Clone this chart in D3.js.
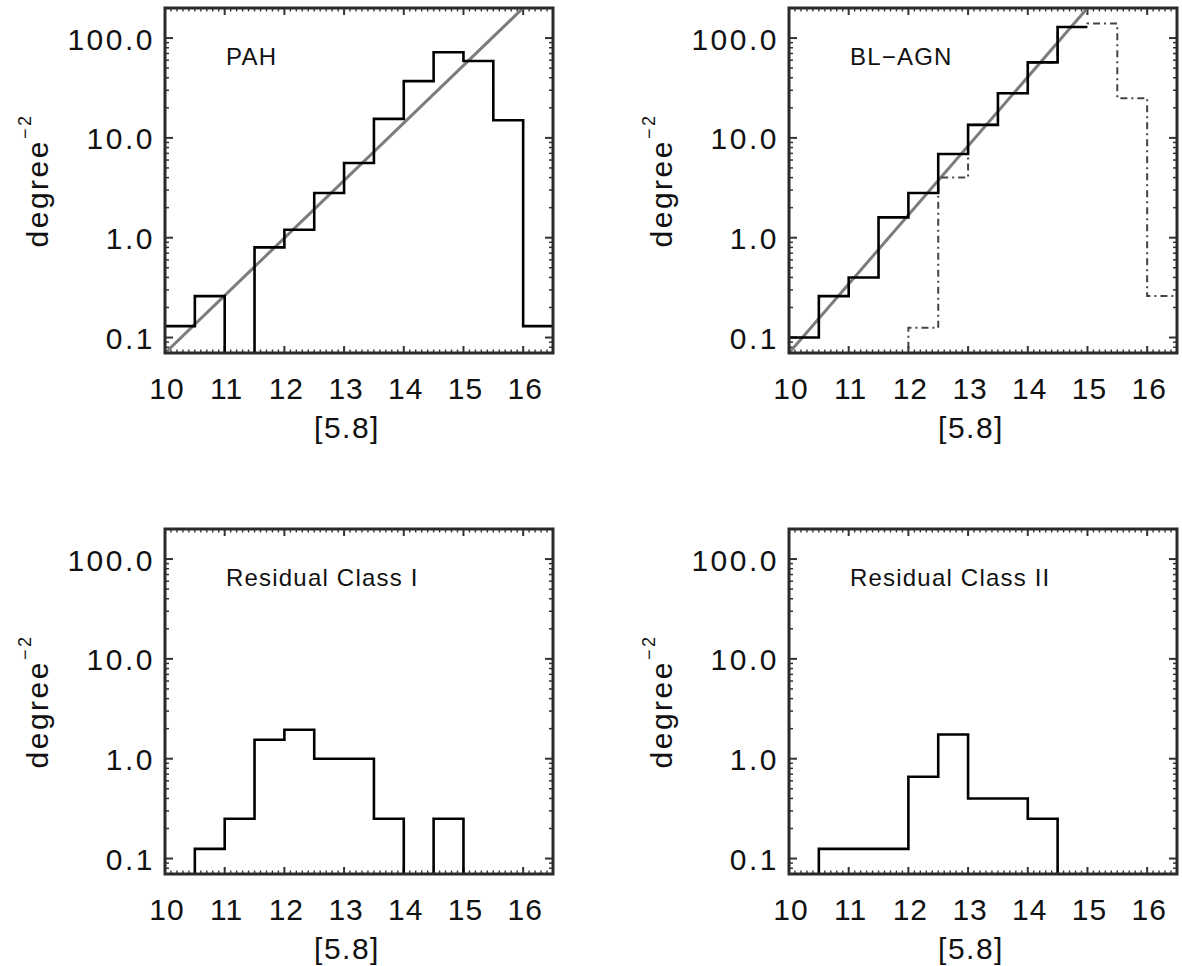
<!DOCTYPE html>
<html>
<head>
<meta charset="utf-8">
<script src="https://cdn.jsdelivr.net/npm/d3@7"></script>
<style>
  html, body { margin: 0; padding: 0; background: #fff; }
  svg { display: block; }
  text { font-family: "Liberation Sans", Arial, Helvetica, sans-serif; fill: #111; }
</style>
</head>
<body>
<svg id="chart" width="1182" height="966"></svg>
<script>
// ---------------- data ----------------
const binStarts = [10, 10.5, 11, 11.5, 12, 12.5, 13, 13.5, 14, 14.5, 15, 15.5, 16];
const binWidth = 0.5;
const xTicks = [10, 11, 12, 13, 14, 15, 16];
const xTickLabels = ["10", "11", "12", "13", "14", "15", "16"];
const yTicks = [0.1, 1, 10, 100];
const yTickLabels = ["0.1", "1.0", "10.0", "100.0"];
const panelTitles = ["PAH", "BL\u2212AGN", "Residual  Class I", "Residual  Class II"];
const xTitle = "[5.8]";
const yTitle = "degree";
const yTitleSup = "\u22122";

// surface densities per bin (0 = empty bin)
const pahValues    = [0.13, 0.26, 0, 0.8, 1.2, 2.8, 5.6, 15.5, 37, 72, 59, 15, 0.13];
const blagnValues  = [0.1, 0.26, 0.4, 1.6, 2.8, 6.9, 13.5, 28, 57, 129];
const blagnAltValues = [0, 0, 0, 0, 0.125, 4.0, 13.5, 28, 57, 129, 140, 25, 0.26];
const class1Values = [0, 0.125, 0.25, 1.55, 1.95, 1.0, 1.0, 0.25, 0, 0.25, 0, 0, 0];
const class2Values = [0, 0.125, 0.125, 0.125, 0.66, 1.75, 0.4, 0.4, 0.25, 0, 0, 0, 0];

// power-law fits (end points in data units)
const pahFitX = [10, 16];
const pahFitY = [0.07, 200];
const blagnFitX = [10, 15];
const blagnFitY = [0.07, 200];

// ---------------- layout ----------------
const W = 388, H = 345;
const panels = [
  { x0: 165, y0: 8,   title: panelTitles[0], hists: [{ v: pahValues, dash: null }], fit: [pahFitX, pahFitY] },
  { x0: 789, y0: 8,   title: panelTitles[1], hists: [{ v: blagnAltValues, dash: "7,4,2,4", color: "#444", width: 2 }, { v: blagnValues, dash: null }], fit: [blagnFitX, blagnFitY] },
  { x0: 165, y0: 529, title: panelTitles[2], hists: [{ v: class1Values, dash: null }], fit: null },
  { x0: 789, y0: 529, title: panelTitles[3], hists: [{ v: class2Values, dash: null }], fit: null }
];

const svg = d3.select("#chart");
const x = d3.scaleLinear().domain([10, 16.5]).range([0, W]);
const y = d3.scaleLog().domain([0.07, 200]).range([H, 0]);
const FLOOR = 0.005;

panels.forEach((p, pi) => {
  const g = svg.append("g").attr("transform", `translate(${p.x0},${p.y0})`);
  const clipId = "clip" + pi;
  g.append("clipPath").attr("id", clipId)
    .append("rect").attr("x", 0).attr("y", 0).attr("width", W).attr("height", H);

  // minor + major ticks (inward, on all four sides)
  const tg = g.append("g").attr("stroke", "#333");
  const xMinor = d3.range(10, 16.5001, 0.1);
  xMinor.forEach(v => {
    const isMajor = Math.abs(v - Math.round(v)) < 1e-6;
    const len = isMajor ? 7 : 3.5;
    const w = isMajor ? 2 : 1.4;
    tg.append("line").attr("x1", x(v)).attr("x2", x(v)).attr("y1", H).attr("y2", H - len).attr("stroke-width", w);
    tg.append("line").attr("x1", x(v)).attr("x2", x(v)).attr("y1", 0).attr("y2", len).attr("stroke-width", w);
  });
  const yMinor = [];
  [0.01, 0.1, 1, 10, 100].forEach(d => { for (let k = 1; k <= 9; k++) yMinor.push([d * k, k === 1]); });
  yMinor.filter(([v]) => v >= 0.07 && v <= 200).forEach(([v, isMajor]) => {
    const len = isMajor ? 8 : 4;
    const w = isMajor ? 2 : 1.5;
    tg.append("line").attr("x1", 0).attr("x2", len).attr("y1", y(v)).attr("y2", y(v)).attr("stroke-width", w);
    tg.append("line").attr("x1", W).attr("x2", W - len).attr("y1", y(v)).attr("y2", y(v)).attr("stroke-width", w);
  });

  // fit line
  if (p.fit) {
    const pts = p.fit[0].map((xx, i) => [xx, p.fit[1][i]]);
    g.append("path")
      .attr("clip-path", `url(#${clipId})`)
      .attr("d", d3.line().x(d => x(d[0])).y(d => y(d[1]))(pts))
      .attr("fill", "none").attr("stroke", "#7c7c7c").attr("stroke-width", 3);
  }

  // histograms (step)
  p.hists.forEach(h => {
    const pts = [];
    h.v.forEach((v, i) => {
      const vv = v > 0 ? v : FLOOR;
      pts.push([binStarts[i], vv]);
      pts.push([binStarts[i] + binWidth, vv]);
    });
    g.append("path")
      .attr("clip-path", `url(#${clipId})`)
      .attr("d", d3.line().x(d => x(d[0])).y(d => y(d[1]))(pts))
      .attr("fill", "none")
      .attr("stroke", h.color || "#000")
      .attr("stroke-width", h.width || 2.6)
      .attr("stroke-dasharray", h.dash);
  });

  // frame
  g.append("rect").attr("x", 0).attr("y", 0).attr("width", W).attr("height", H)
    .attr("fill", "none").attr("stroke", "#2a2a2a").attr("stroke-width", 3);

  // tick labels
  xTicks.forEach((t, i) => {
    g.append("text").attr("x", x(t) + 2).attr("y", H + 35)
      .attr("text-anchor", "middle").attr("dominant-baseline", "central")
      .attr("font-size", 30).attr("letter-spacing", 1)
      .text(xTickLabels[i]);
  });
  yTicks.forEach((t, i) => {
    g.append("text").attr("x", -10).attr("y", y(t) + 1)
      .attr("text-anchor", "end").attr("dominant-baseline", "central")
      .attr("font-size", 30).attr("letter-spacing", 2.5)
      .text(yTickLabels[i]);
  });

  // axis titles
  g.append("text").attr("x", W / 2 - 12).attr("y", H + 74)
    .attr("text-anchor", "middle").attr("dominant-baseline", "central")
    .attr("font-size", 30).attr("letter-spacing", 1.5)
    .text(xTitle);
  const yt = g.append("text")
    .attr("transform", `translate(${-128},${H / 2}) rotate(-90)`)
    .attr("text-anchor", "middle").attr("dominant-baseline", "central")
    .attr("font-size", 30).attr("letter-spacing", 2.5);
  yt.append("tspan").text(yTitle);
  yt.append("tspan").attr("dy", -12).attr("font-size", 18).text(yTitleSup);

  // panel title
  g.append("text").attr("x", 61).attr("y", 57)
    .attr("font-size", 24).attr("letter-spacing", 1.2)
    .text(p.title);
});
</script>
</body>
</html>
